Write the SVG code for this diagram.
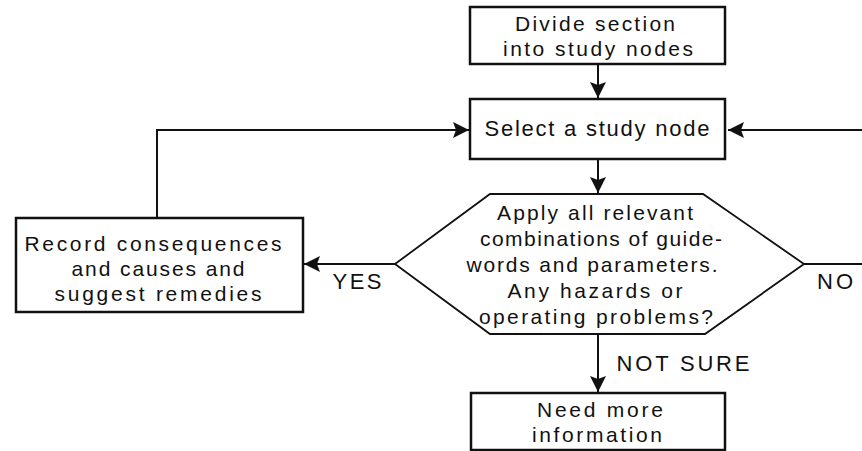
<svg xmlns="http://www.w3.org/2000/svg" width="862" height="451" viewBox="0 0 862 451">
<style>
.box{fill:#fff;stroke:#111;stroke-width:2.5}
.hex{fill:#fff;stroke:#111;stroke-width:1.8;stroke-linejoin:miter}
.con{fill:none;stroke:#111;stroke-width:2}
text{font-family:"Liberation Sans",Arial,sans-serif;font-size:22px;fill:#111;text-anchor:middle}
.sm{font-size:21px}
</style>
<defs>
<marker id="ah" markerUnits="userSpaceOnUse" markerWidth="17" markerHeight="16" refX="16" refY="8" orient="auto" viewBox="0 0 17 16">
<path d="M0,0 L16,8 L0,16 L3,8 z" fill="#111"/>
</marker>
</defs>
<rect width="862" height="451" fill="#fff"/>
<g id="connectors">
<line class="con" x1="598" y1="64" x2="598" y2="98" marker-end="url(#ah)"/>
<line class="con" x1="598" y1="159" x2="598" y2="193" marker-end="url(#ah)"/>
<line class="con" x1="598" y1="334" x2="598" y2="392" marker-end="url(#ah)"/>
<line class="con" x1="395" y1="264" x2="304" y2="264" marker-end="url(#ah)"/>
<polyline class="con" points="157,218 157,130 469,130" marker-end="url(#ah)"/>
<polyline class="con" points="804,264 865,264 865,130 728,130" marker-end="url(#ah)"/>
<text x="357" y="289" textLength="49" lengthAdjust="spacing">YES</text>
<text x="835" y="289" textLength="36" lengthAdjust="spacing">NO</text>
<text x="683" y="371" textLength="133" lengthAdjust="spacing">NOT SURE</text>
</g>
<g id="divide">
<rect class="box" x="470" y="7" width="255" height="57"/>
<text class="sm" x="595" y="31" textLength="160" lengthAdjust="spacing">Divide section</text>
<text class="sm" x="598" y="56" textLength="190" lengthAdjust="spacing">into study nodes</text>
</g>
<g id="select">
<rect class="box" x="470" y="99" width="255" height="60"/>
<text x="597" y="136" textLength="225" lengthAdjust="spacing">Select a study node</text>
</g>
<g id="apply">
<polygon class="hex" points="395,264 490,194 703,194 804,264 705,334 490,334"/>
<text class="sm" x="595" y="220" textLength="196" lengthAdjust="spacing">Apply all relevant</text>
<text class="sm" x="601" y="246" textLength="242" lengthAdjust="spacing">combinations of guide-</text>
<text class="sm" x="592" y="272" textLength="251" lengthAdjust="spacing">words and parameters.</text>
<text class="sm" x="595" y="298" textLength="175" lengthAdjust="spacing">Any hazards or</text>
<text class="sm" x="596" y="324" textLength="234" lengthAdjust="spacing">operating problems?</text>
</g>
<g id="record">
<rect class="box" x="16" y="218" width="287" height="94"/>
<text class="sm" x="153" y="251" textLength="257" lengthAdjust="spacing">Record consequences</text>
<text class="sm" x="158" y="276" textLength="173" lengthAdjust="spacing">and causes and</text>
<text class="sm" x="158" y="301" textLength="207" lengthAdjust="spacing">suggest remedies</text>
</g>
<g id="need">
<rect class="box" x="471" y="393" width="254" height="57"/>
<text class="sm" x="600" y="417" textLength="126" lengthAdjust="spacing">Need more</text>
<text class="sm" x="597" y="442" textLength="130" lengthAdjust="spacing">information</text>
</g>
</svg>
